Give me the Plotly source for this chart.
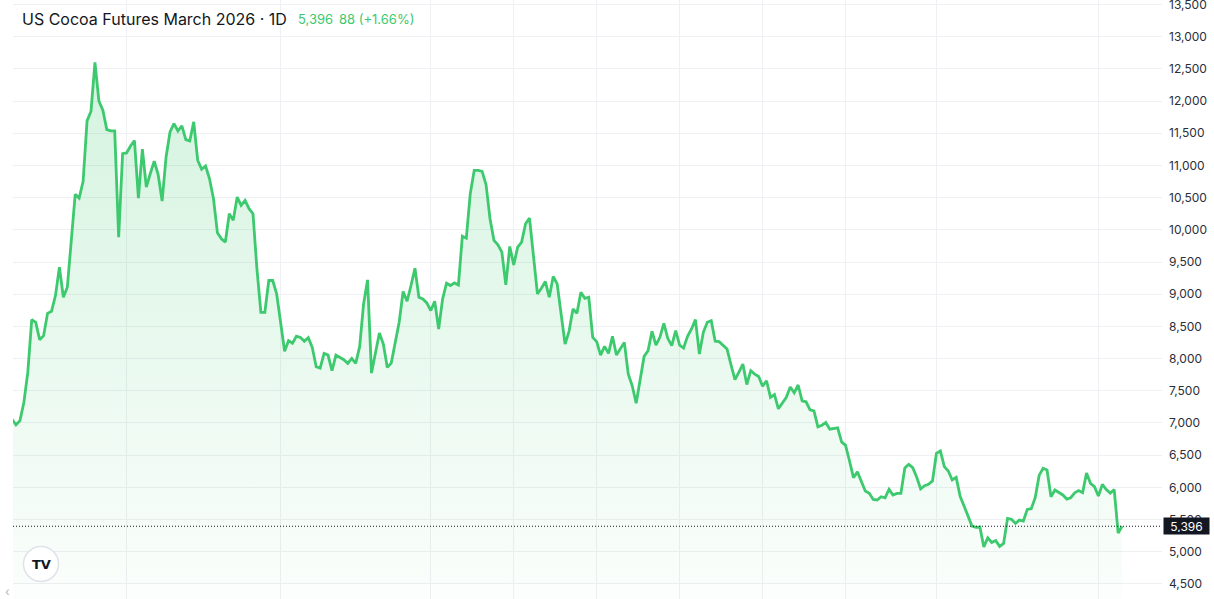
import numpy as np
import plotly.graph_objects as go

# ---------------- data ----------------
close = [
    7058, 6971, 7034, 7318, 7785, 8606, 8564, 8294, 8356, 8703,
    8735, 8979, 9420, 8953, 9108, 9900, 10551, 10494, 10754, 11692,
    11843, 12600, 12000, 11859, 11557, 11537, 11537, 9887, 11184, 11194,
    11303, 11386, 10494, 11252, 10665, 10872, 11065, 10857, 10447, 11132,
    11521, 11650, 11537, 11615, 11401, 11381, 11677, 11081, 10940, 10992,
    10794, 10483, 9954, 9860, 9809, 10250, 10147, 10509, 10380, 10458,
    10328, 10250, 9393, 8719, 8719, 9213, 9213, 9004, 8560, 8115,
    8279, 8240, 8350, 8330, 8268, 8325, 8175, 7874, 7853, 8081,
    8055, 7812, 8055, 8019, 7983, 7925, 8003, 7925, 8185, 8849,
    9222, 7775, 8070, 8397, 8226, 7863, 7930, 8226, 8564, 9042,
    8891, 9135, 9404, 8953, 8927, 8865, 8746, 8891, 8460, 8927,
    9171, 9135, 9175, 9144, 9902, 9871, 10561, 10925, 10925, 10909,
    10701, 10172, 9836, 9767, 9653, 9144, 9742, 9456, 9731, 9809,
    10094, 10183, 9549, 9004, 9093, 9197, 8953, 9275, 9160, 8719,
    8226, 8424, 8771, 8704, 9031, 8937, 8953, 8330, 8263, 8055,
    8190, 8081, 8346, 8055, 8148, 8252, 7759, 7578, 7307, 7681,
    8034, 8123, 8424, 8210, 8330, 8548, 8315, 8201, 8435, 8210,
    8164, 8346, 8460, 8606, 8070, 8408, 8564, 8590, 8271, 8263,
    8201, 8148, 7905, 7672, 7790, 7915, 7596, 7812, 7759, 7723,
    7572, 7656, 7396, 7440, 7220, 7312, 7400, 7558, 7468, 7590,
    7345, 7329, 7205, 7189, 6940, 6965, 7007, 6903, 6918, 6924,
    6706, 6653, 6410, 6151, 6240, 6100, 5944, 5907, 5813, 5804,
    5855, 5839, 5969, 5882, 5907, 5907, 6300, 6358, 6307, 6160,
    5975, 6026, 6047, 6100, 6527, 6566, 6322, 6255, 6115, 6155,
    5860, 5710, 5560, 5399, 5378, 5383, 5075, 5217, 5145, 5175,
    5083, 5128, 5518, 5503, 5440, 5492, 5477, 5658, 5669, 5839,
    6186, 6296, 6270, 5855, 5959, 5917, 5882, 5818, 5839, 5915,
    5950, 5917, 6224, 6062, 6011, 5866, 6047, 5967, 5912, 5964,
    5290, 5396,
]
bar = list(range(len(close)))                 # trading-day index
month_start_bars = [29, 68, 106, 127, 148, 169, 190, 211, 234, 275]

title_text = "US Cocoa Futures March 2026 · 1D"
last_price_text = "5,396"
change_text = "88 (+1.66%)"
last_price = 5396

# ---------------- style ----------------
GREEN = "#3dc96e"
DARK = "#131722"
GRID = "#eef0f3"
W, H = 1214, 599
L, R, T, B = 13, 52, 0, 0
PW, PH = W - L - R, H - T - B

def px(x):
    return (x - L) / PW

def py(y):
    return 1 - (y - T) / PH

fig = go.Figure()
fig.add_trace(go.Scatter(
    x=bar, y=close, mode="lines",
    line=dict(color=GREEN, width=2.8),
    fill="tozeroy",
    fillgradient=dict(
        type="vertical", start=4266, stop=12600,
        colorscale=[[0, "rgba(61,201,110,0.02)"], [1, "rgba(61,201,110,0.22)"]],
    ),
    hoverinfo="skip",
))

fig.update_layout(
    width=W, height=H,
    margin=dict(l=L, r=R, t=T, b=B),
    paper_bgcolor="white", plot_bgcolor="white",
    showlegend=False,
    font=dict(family="Inter, Roboto, sans-serif", color="#2a2e39", size=12),
)
fig.update_xaxes(
    range=[0.253, 291.1],
    tickmode="array", tickvals=month_start_bars,
    showticklabels=False, ticks="",
    showgrid=True, gridcolor=GRID, gridwidth=1,
    zeroline=False, showline=False, automargin=False,
)
fig.update_yaxes(
    range=[4266, 13570], side="right",
    tick0=4500, dtick=500, tickformat=",d",
    showgrid=True, gridcolor=GRID, gridwidth=1,
    ticks="", ticklabelstandoff=6, ticklabeloverflow="allow",
    tickfont=dict(size=12, color="#2a2e39"),
    zeroline=False, showline=False, automargin=False,
)

# last price dotted line
fig.add_shape(type="line", xref="paper", x0=0, x1=1, yref="y", y0=last_price, y1=last_price,
              line=dict(color=DARK, width=1, dash="1px,2px"))
# last price label
fig.add_annotation(xref="paper", x=px(1163), xanchor="left", yref="y", y=last_price, yanchor="middle",
                   text=last_price_text, showarrow=False, bgcolor=DARK, borderpad=2,
                   width=41, height=12, font=dict(color="white", size=12))

# title
fig.add_annotation(xref="paper", x=px(20), xanchor="left", yref="paper", y=py(19), yanchor="middle",
                   text=title_text, showarrow=False, font=dict(size=16, color=DARK))
fig.add_annotation(xref="paper", x=px(296), xanchor="left", yref="paper", y=py(19), yanchor="middle",
                   text=last_price_text, showarrow=False, font=dict(size=13, color=GREEN))
fig.add_annotation(xref="paper", x=px(337), xanchor="left", yref="paper", y=py(19), yanchor="middle",
                   text=change_text, showarrow=False, font=dict(size=13, color=GREEN))

# logo badge
cx, cy, r = 41, 564, 17.5
fig.add_shape(type="circle", xref="paper", yref="paper",
              x0=px(cx - r), x1=px(cx + r), y0=py(cy + r), y1=py(cy - r),
              line=dict(color="#e0e3eb", width=1.5), fillcolor="white")
fig.add_annotation(xref="paper", x=px(cx), xanchor="center", yref="paper", y=py(cy), yanchor="middle",
                   text="<b>TV</b>", showarrow=False,
                   font=dict(family="DejaVu Sans", size=13, color=DARK))
fig.add_annotation(xref="paper", x=px(7), xanchor="center", yref="paper", y=py(591), yanchor="middle",
                   text="‹", showarrow=False, font=dict(size=12, color="#b2b5be"))

fig.write_html("out.html", config={"displayModeBar": False},
               post_script="document.body.style.margin='0';")
